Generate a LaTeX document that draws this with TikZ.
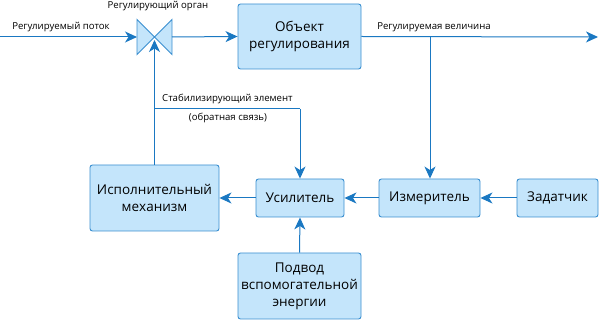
\documentclass[tikz,border=0pt]{standalone}
\usepackage{fontspec}
\setmainfont{Open Sans}
\usetikzlibrary{arrows.meta}
\definecolor{boxfill}{HTML}{C4E5FB}
\definecolor{boxline}{HTML}{3A8FD0}
\definecolor{wire}{HTML}{1A78C2}
\begin{document}
\begin{tikzpicture}[x=1pt,y=-1pt,
  blk/.style={draw=boxline, fill=boxfill, line width=0.9pt, rounded corners=2.5pt, align=center, font=\fontsize{13.5}{17}\selectfont, inner sep=0pt},
  conn/.style={draw=wire, line width=1pt},
  arr/.style={conn, -{Stealth[length=12pt,width=11pt,inset=3.5pt]}},
  lbl/.style={font=\fontsize{9.6}{11}\selectfont, inner sep=0pt}]
\useasboundingbox (0,0) rectangle (600,320);
% boxes
\node[blk, minimum width=123pt, minimum height=65pt] (obj) at (299.5,36.5) {Объект\\регулирования};
\node[blk, minimum width=129pt, minimum height=66pt] (isp) at (154.5,198) {Исполнительный\\механизм};
\node[blk, minimum width=88pt, minimum height=38pt] (usil) at (300,198) {Усилитель};
\node[blk, minimum width=101pt, minimum height=38pt] (izm) at (429.5,198) {Измеритель};
\node[blk, minimum width=81pt, minimum height=38pt] (zad) at (557.5,198) {Задатчик};
\node[blk, minimum width=123pt, minimum height=66pt] (podv) at (299.5,286) {Подвод\\вспомогательной\\энергии};
% valve
\coordinate (vc) at (154.5,37);
\coordinate (vl) at (137,37);
\coordinate (vr) at (172,37);
\coordinate (vb) at (154.5,40);
\filldraw[draw=boxline, fill=boxfill, line width=0.9pt, line join=miter]
  (137,19.5) -- (172,54.5) -- (172,19.5) -- (137,54.5) -- cycle;
\node[lbl] (vlab) at (158,6) {Регулирующий орган};
% inputs / outputs
\coordinate (in) at (0,37);
\coordinate (out) at (598,37);
\coordinate (br) at (430,37);
\draw[arr] (in) -- (vl);
\node[lbl] (inlab) at (61,27) {Регулируемый поток};
\draw[arr] (vr) -- (obj.west);
\draw[arr] (obj.east) -- (out);
\node[lbl] (outlab) at (434,27) {Регулируемая величина};
\draw[arr] (br) -- (br |- izm.north);
% feedback
\coordinate (fb) at (154.5,109);
\draw[arr] (isp.north) -- (vb);
\draw[conn] (fb) -- (300,109);
\draw[arr] (300,109) -- (usil.north);
\node[lbl, anchor=west] (stlab) at (162,99) {Стабилизирующий элемент};
\node[lbl] (oslab) at (228,118) {(обратная связь)};
% bottom row
\draw[arr] (zad.west) -- (izm.east);
\draw[arr] (izm.west) -- (usil.east);
\draw[arr] (usil.west) -- (isp.east);
\draw[arr] (podv.north) -- (usil.south);
\end{tikzpicture}
\end{document}
